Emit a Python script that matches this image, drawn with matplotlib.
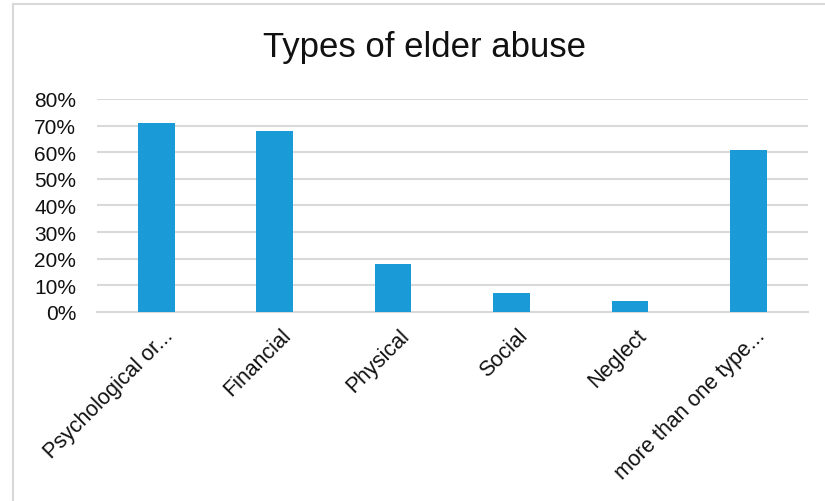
import matplotlib.pyplot as plt
import matplotlib.transforms as mtransforms
from matplotlib.lines import Line2D
from matplotlib.ticker import PercentFormatter

# ---------------------------------------
# Data
# ---------------------------------------
categories = ["Psychological or...", "Financial", "Physical",
              "Social", "Neglect", "more than one type..."]
shares = [0.71, 0.68, 0.18, 0.07, 0.04, 0.61]
y_ticks = [0.0, 0.1, 0.2, 0.3, 0.4, 0.5, 0.6, 0.7, 0.8]

plt.rcParams["font.family"] = ["Liberation Sans", "DejaVu Sans"]

fig = plt.figure(figsize=(8.25, 5.02), dpi=100)
ax = fig.add_axes([0.1176, 0.3765, 0.8614, 0.4243])

x = range(len(categories))
ax.bar(x, shares, width=0.31, color="#1a9ad6", zorder=3)

ax.set_ylim(0, 0.8)
ax.set_xlim(-0.5, len(categories) - 0.5)
ax.set_yticks(y_ticks)
ax.yaxis.set_major_formatter(PercentFormatter(1.0, decimals=0))
ax.grid(axis="y", color="#d9d9d9", linewidth=1.5, zorder=0)

ax.set_xticks(list(x))
ax.set_xticklabels(categories, rotation=45, ha="right",
                   rotation_mode="anchor", fontsize=15.5, color="#111111")
ax.tick_params(axis="y", labelsize=15, labelcolor="#111111", length=0, pad=15)
ax.tick_params(axis="x", length=0, pad=9)

# nudge the rotated labels a little to the right
shift = mtransforms.ScaledTranslation(6 / 100, 0, fig.dpi_scale_trans)
for lbl in ax.get_xticklabels():
    lbl.set_transform(lbl.get_transform() + shift)

for side in ["top", "right", "left"]:
    ax.spines[side].set_visible(False)
ax.spines["bottom"].set_color("#d9d9d9")
ax.spines["bottom"].set_linewidth(1.5)

fig.text(0.514, 0.905, "Types of elder abuse", ha="center", va="center",
         fontsize=25, color="#111111")

# chart frame (top and left edges only visible)
fig.add_artist(Line2D([13 / 825, 1], [1 - 4.5 / 502] * 2,
                      transform=fig.transFigure, color="#d9d9d9", lw=1.5))
fig.add_artist(Line2D([13 / 825] * 2, [1 - 4.5 / 502, 0],
                      transform=fig.transFigure, color="#d9d9d9", lw=1.5))

plt.savefig("out.png")
